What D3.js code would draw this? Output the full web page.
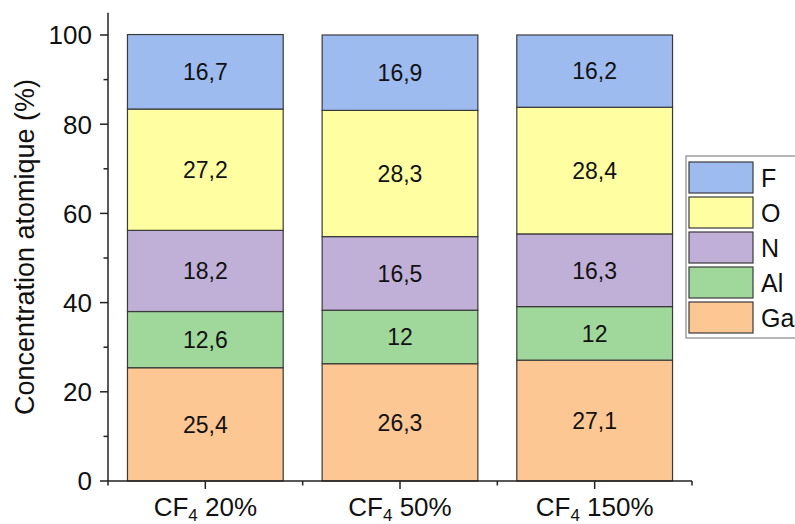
<!DOCTYPE html>
<html>
<head>
<meta charset="utf-8">
<script src="https://cdn.jsdelivr.net/npm/d3@7"></script>
<style>
  html, body { margin: 0; padding: 0; background: #fff; }
  svg { display: block; font-family: "Liberation Sans", Arial, sans-serif; }
</style>
</head>
<body>
<svg id="chart" width="795" height="524"></svg>
<script>
// ---- data ----
const categories = ["20%", "50%", "150%"];
const seriesNames = ["Ga", "Al", "N", "O", "F"];
const Ga = [25.4, 26.3, 27.1];
const Al = [12.6, 12, 12];
const N  = [18.2, 16.5, 16.3];
const O  = [27.2, 28.3, 28.4];
const F  = [16.7, 16.9, 16.2];
const labelsGa = ["25,4", "26,3", "27,1"];
const labelsAl = ["12,6", "12", "12"];
const labelsN  = ["18,2", "16,5", "16,3"];
const labelsO  = ["27,2", "28,3", "28,4"];
const labelsF  = ["16,7", "16,9", "16,2"];
const yTicks = [0, 20, 40, 60, 80, 100];
const yMinorTicks = [10, 30, 50, 70, 90];
const colors = {Ga: "#fdc794", Al: "#a0d89c", N: "#c0b0d8", O: "#ffffa2", F: "#9dbbef"};

const values = {Ga, Al, N, O, F};
const labels = {Ga: labelsGa, Al: labelsAl, N: labelsN, O: labelsO, F: labelsF};

const table = categories.map((c, i) => {
  const row = {cat: c};
  seriesNames.forEach(s => row[s] = values[s][i]);
  return row;
});

const svg = d3.select("#chart");
const x0 = 108, x1 = 692, yBottom = 481, yTop = 12.7;

const x = d3.scaleBand().domain(categories).range([x0, x1]).paddingInner(0.2).paddingOuter(0.1);
const xBand = d3.scaleBand().domain(categories).range([x0, x1]);
const y = d3.scaleLinear().domain([0, 105]).range([yBottom, yTop]);

const stack = d3.stack().keys(seriesNames)(table);

// bars
const g = svg.append("g");
stack.forEach(layer => {
  const key = layer.key;
  g.selectAll(null).data(layer).enter().append("rect")
    .attr("x", d => x(d.data.cat))
    .attr("width", x.bandwidth())
    .attr("y", d => y(d[1]))
    .attr("height", d => y(d[0]) - y(d[1]))
    .attr("fill", colors[key])
    .attr("stroke", "#3a3a3a")
    .attr("stroke-width", 1.2);
  g.selectAll(null).data(layer).enter().append("text")
    .attr("x", d => x(d.data.cat) + x.bandwidth() / 2)
    .attr("y", d => (y(d[0]) + y(d[1])) / 2)
    .attr("dy", "0.36em")
    .attr("text-anchor", "middle")
    .attr("font-size", 23)
    .attr("fill", "#111")
    .text((d, i) => labels[key][i]);
});

// y axis
const yAxis = svg.append("g").attr("transform", `translate(${x0},0)`);
yAxis.append("line").attr("x1", 0).attr("x2", 0).attr("y1", yTop).attr("y2", yBottom)
  .attr("stroke", "#222").attr("stroke-width", 1.5);
yAxis.selectAll(".maj").data(yTicks).enter().append("line")
  .attr("x1", -8).attr("x2", 0).attr("y1", d => y(d)).attr("y2", d => y(d))
  .attr("stroke", "#222").attr("stroke-width", 1.5);
yAxis.selectAll(".min").data(yMinorTicks).enter().append("line")
  .attr("x1", -4.5).attr("x2", 0).attr("y1", d => y(d)).attr("y2", d => y(d))
  .attr("stroke", "#222").attr("stroke-width", 1.5);
yAxis.selectAll(".lbl").data(yTicks).enter().append("text")
  .attr("x", -16).attr("y", d => y(d)).attr("dy", "0.36em")
  .attr("text-anchor", "end").attr("font-size", 26).attr("fill", "#111")
  .text(d => d);

// x axis
const xAxis = svg.append("g").attr("transform", `translate(0,${yBottom})`);
xAxis.append("line").attr("x1", x0).attr("x2", x1).attr("y1", 0).attr("y2", 0)
  .attr("stroke", "#222").attr("stroke-width", 1.5);
const bounds = categories.map(c => xBand(c)).concat([x1]);
xAxis.selectAll(".min").data(bounds).enter().append("line")
  .attr("x1", d => d).attr("x2", d => d).attr("y1", 0).attr("y2", 4.5)
  .attr("stroke", "#222").attr("stroke-width", 1.5);
xAxis.selectAll(".maj").data(categories).enter().append("line")
  .attr("x1", d => x(d) + x.bandwidth() / 2).attr("x2", d => x(d) + x.bandwidth() / 2)
  .attr("y1", 0).attr("y2", 8)
  .attr("stroke", "#222").attr("stroke-width", 1.5);
const xl = xAxis.selectAll(".lbl").data(categories).enter().append("text")
  .attr("x", d => x(d) + x.bandwidth() / 2).attr("y", 35)
  .attr("text-anchor", "middle").attr("font-size", 26).attr("fill", "#111");
xl.append("tspan").text("CF");
xl.append("tspan").attr("font-size", 17).attr("dy", 5).text("4");
xl.append("tspan").attr("dy", -5).text(d => "\u00a0" + d);

// y title
svg.append("text")
  .attr("transform", `translate(34,247) rotate(-90)`)
  .attr("text-anchor", "middle").attr("font-size", 27).attr("fill", "#111")
  .text("Concentration atomique (%)");

// legend
const legend = svg.append("g");
legend.append("rect").attr("x", 686).attr("y", 156).attr("width", 130).attr("height", 182)
  .attr("fill", "#fff").attr("stroke", "#888").attr("stroke-width", 1.2);
const legOrder = seriesNames.slice().reverse();
const li = legend.selectAll(".it").data(legOrder).enter().append("g")
  .attr("transform", (d, i) => `translate(689,${162 + i * 35})`);
li.append("rect").attr("width", 64).attr("height", 31)
  .attr("fill", d => colors[d]).attr("stroke", "#3a3a3a").attr("stroke-width", 1.2);
li.append("text").attr("x", 72).attr("y", 15.5).attr("dy", "0.36em")
  .attr("font-size", 25).attr("fill", "#111").text(d => d);
</script>
</body>
</html>
